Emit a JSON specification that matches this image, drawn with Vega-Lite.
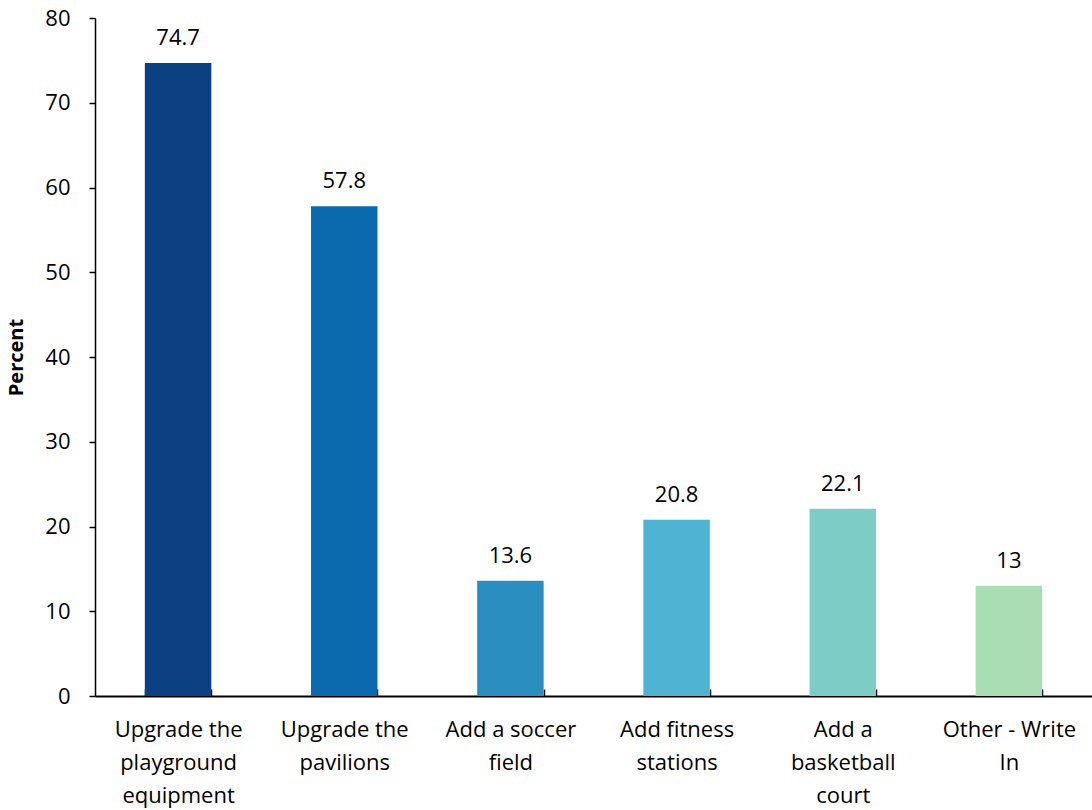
{
  "$schema": "https://vega.github.io/schema/vega-lite/v6.json",
  "width": 997,
  "height": 678,
  "autosize": "none",
  "padding": {"left": 95, "top": 18, "right": 0, "bottom": 114},
  "background": "white",
  "config": {"view": {"stroke": null}, "font": "Open Sans"},
  "data": {
    "values": [
      {"option": "Upgrade the playground equipment", "percent": 74.7, "label": "74.7"},
      {"option": "Upgrade the pavilions", "percent": 57.8, "label": "57.8"},
      {"option": "Add a soccer field", "percent": 13.6, "label": "13.6"},
      {"option": "Add fitness stations", "percent": 20.8, "label": "20.8"},
      {"option": "Add a basketball court", "percent": 22.1, "label": "22.1"},
      {"option": "Other - Write In", "percent": 13, "label": "13"}
    ]
  },
  "encoding": {
    "x": {
      "field": "option",
      "type": "nominal",
      "sort": null,
      "scale": {"paddingInner": 0.6, "paddingOuter": 0.3},
      "axis": {
        "title": null,
        "labelAngle": 0,
        "labelFontSize": 22,
        "labelColor": "#000000",
        "labelLineHeight": 33,
        "labelPadding": 30,
        "labelLimit": 0,
        "domainColor": "#000000",
        "domainWidth": 2,
        "tickColor": "#000000",
        "tickWidth": 1.5,
        "tickSize": -7,
        "tickBand": "extent",
        "labelExpr": "datum.value == 'Upgrade the playground equipment' ? ['Upgrade the','playground','equipment'] : datum.value == 'Upgrade the pavilions' ? ['Upgrade the','pavilions'] : datum.value == 'Add a soccer field' ? ['Add a soccer','field'] : datum.value == 'Add fitness stations' ? ['Add fitness','stations'] : datum.value == 'Add a basketball court' ? ['Add a','basketball','court'] : datum.value == 'Other - Write In' ? ['Other - Write','In'] : ''"
      }
    },
    "y": {
      "field": "percent",
      "type": "quantitative",
      "scale": {"domain": [0, 80]},
      "axis": {
        "title": "Percent",
        "titleFontSize": 20,
        "titleFontWeight": "bold",
        "titleColor": "#000000",
        "titlePadding": 18,
        "values": [0, 10, 20, 30, 40, 50, 60, 70, 80],
        "grid": false,
        "labelFontSize": 22,
        "labelColor": "#000000",
        "labelPadding": 19,
        "domainColor": "#000000",
        "domainWidth": 1.5,
        "tickColor": "#000000",
        "tickWidth": 1.5,
        "tickSize": 6
      }
    }
  },
  "layer": [
    {
      "mark": {"type": "bar"},
      "encoding": {
        "color": {
          "field": "option",
          "type": "nominal",
          "sort": null,
          "legend": null,
          "scale": {
            "domain": ["Upgrade the playground equipment", "Upgrade the pavilions", "Add a soccer field", "Add fitness stations", "Add a basketball court", "Other - Write In"],
            "range": ["#0b4083", "#0b6aae", "#2b8ec0", "#4fb3d4", "#7dccc5", "#a9ddb4"]
          }
        }
      }
    },
    {
      "mark": {"type": "text", "baseline": "bottom", "dy": -13, "fontSize": 22, "color": "#000000"},
      "encoding": {"text": {"field": "label", "type": "nominal"}}
    }
  ]
}
